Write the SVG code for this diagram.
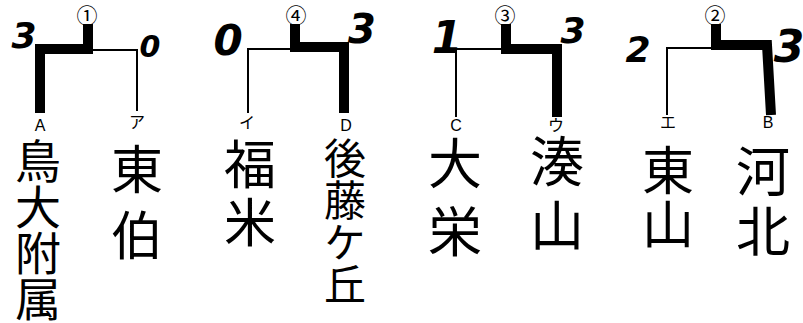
<svg xmlns="http://www.w3.org/2000/svg" width="803" height="323" viewBox="0 0 803 323">
<style>
.bg{fill:#fff}
.thick{fill:none;stroke:#000;stroke-width:10;stroke-linejoin:miter;stroke-linecap:butt}
.thin{fill:none;stroke:#000;stroke-width:2}
.k{font-family:"Noto Sans CJK JP","Noto Sans CJK SC",sans-serif;writing-mode:vertical-rl;text-anchor:start;fill:#000}
.lab{font-family:"Liberation Sans","Noto Sans CJK JP",sans-serif;font-size:16px;text-anchor:middle;fill:#000}
.sc{font-family:"DejaVu Sans",sans-serif;font-weight:bold;font-style:italic;text-anchor:middle;fill:#000}
.mn{font-family:"Noto Sans CJK JP",sans-serif;font-size:21px;text-anchor:middle;fill:#000}
</style>
<rect class="bg" x="0" y="0" width="803" height="323"/>
<g id="connectors">
<path class="thick" d="M88,24 V49 H40 V113"/>
<path class="thin" d="M88,50 H137 V111"/>
<path class="thick" d="M295,24 V47 H344 V113"/>
<path class="thin" d="M295,49 H248 V113"/>
<path class="thick" d="M506,24 V49 H557 V117"/>
<path class="thin" d="M506,49 H456 V117"/>
<path class="thick" d="M716,24 V45 H767 L771,115"/>
<path class="thin" d="M716,48 H667 V115"/>
</g>
<g id="match1"><text class="mn" x="87" y="23">①</text></g>
<g id="match4"><text class="mn" x="296" y="23">④</text></g>
<g id="match3"><text class="mn" x="505" y="23">③</text></g>
<g id="match2"><text class="mn" x="715" y="23">②</text></g>
<g id="team-A">
<text class="sc" x="24" y="48" font-size="36" font-style="normal">3</text>
<text class="lab" x="40" y="131">A</text>
<text class="k" x="38" y="138" font-size="46">鳥大附属</text>
</g>
<g id="team-a">
<text class="sc" x="150" y="57" font-size="30">0</text>
<text class="lab" x="137" y="128">ア</text>
<text class="k" x="137" y="143" font-size="52" letter-spacing="14">東伯</text>
</g>
<g id="team-i">
<text class="sc" x="228" y="55" font-size="42">0</text>
<text class="lab" x="247" y="128">イ</text>
<text class="k" x="250" y="138" font-size="52" letter-spacing="6">福米</text>
</g>
<g id="team-D">
<text class="sc" x="362" y="43" font-size="40" font-style="normal">3</text>
<text class="lab" x="346" y="131">D</text>
<text class="k" x="345" y="137" font-size="42">後藤ケ丘</text>
</g>
<g id="team-C">
<text class="sc" x="447" y="53" font-size="44">1</text>
<text class="lab" x="456" y="131">C</text>
<text class="k" x="455" y="136" font-size="54" letter-spacing="14">大栄</text>
</g>
<g id="team-u">
<text class="sc" x="573" y="43" font-size="36" font-style="normal">3</text>
<text class="lab" x="556" y="131">ウ</text>
<text class="k" x="557" y="134" font-size="54" letter-spacing="10">湊山</text>
</g>
<g id="team-e">
<text class="sc" x="638" y="62" font-size="36">2</text>
<text class="lab" x="668" y="128">エ</text>
<text class="k" x="668" y="144" font-size="52" letter-spacing="2">東山</text>
</g>
<g id="team-B">
<text class="sc" x="789" y="62" font-size="44" font-style="normal">3</text>
<text class="lab" x="768" y="128">B</text>
<text class="k" x="763" y="144" font-size="54" letter-spacing="6">河北</text>
</g>
</svg>
